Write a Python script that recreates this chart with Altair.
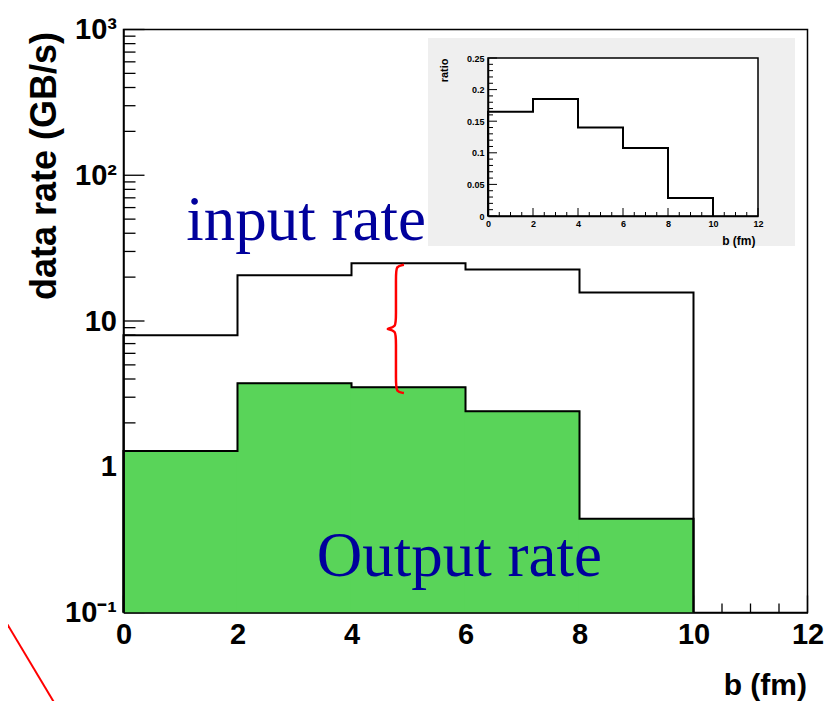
import math
import altair as alt
import pandas as pd

# ---------------- data ----------------
b_edges = [0, 2, 4, 6, 8, 10]
input_rate = [8.0, 20.6, 24.9, 22.6, 15.7]      # GB/s, black outline
output_rate = [1.28, 3.74, 3.51, 2.40, 0.44]    # GB/s, green histogram
ratio = [0.165, 0.185, 0.140, 0.1075, 0.0286]   # inset

x_major = [0, 2, 4, 6, 8, 10, 12]
x_minor = [k / 2 for k in range(0, 25) if k % 4 != 0]
y_major = [0.1, 1, 10, 100, 1000]
y_minor = [m * 10.0 ** e for e in range(-1, 3) for m in range(2, 10)]
ix_major = [0, 2, 4, 6, 8, 10, 12]
ix_minor = [k / 2 for k in range(0, 25) if k % 4 != 0]
iy_major = [0, 0.05, 0.1, 0.15, 0.2, 0.25]
iy_minor = [k / 100 for k in range(0, 26) if k % 5 != 0]

# ---------------- layout / style ----------------
W, H = 684, 583
XMIN, XMAX = 0, 12
YMIN, YMAX = 0.1, 1000
FONT = "Liberation Sans"
SERIF = "Liberation Serif"
GREEN = "#59d459"
BLUE = "#00009c"
IX0, IX1, IY0, IY1 = 364.5, 634.5, 28.5, 186.5   # inset plot box (pixels)
IXMAX, IYMAX = 12, 0.25


def outline(edges, vals, floor):
    xs = [edges[0]] + list(edges[:-1]) + [edges[-1], edges[-1]]
    ys = [floor] + list(vals) + [vals[-1], floor]
    return pd.DataFrame({"b": xs, "v": ys, "i": list(range(len(xs)))})


bars = pd.DataFrame({"b0": b_edges[:-1], "b1": b_edges[1:],
                     "input": input_rate, "output": output_rate})
one = pd.DataFrame({"k": [0]})

xs_ = alt.Scale(domain=[XMIN, XMAX], nice=False, zero=False)
ys_ = alt.Scale(type="log", domain=[YMIN, YMAX], nice=False)

x_axis = alt.Axis(orient="bottom", values=x_major, format="d", ticks=False, grid=False,
                  domainColor="black", domainWidth=1.5,
                  labelFont=FONT, labelFontSize=29, labelFontWeight="bold",
                  labelColor="black", labelPadding=8, labelFlush=False,
                  labelOverlap=False,
                  title="b (fm)", titleFont=FONT, titleFontSize=30,
                  titleFontWeight="bold", titleColor="black",
                  titleAlign="right", titleX=W - 1, titleY=82,
                  titleBaseline="alphabetic", zindex=1)
y_axis = alt.Axis(orient="left", values=y_major, ticks=False, grid=False,
                  labelExpr="datum.value >= 999 ? '10³' : datum.value >= 99 ? '10²' : "
                            "datum.value >= 9 ? '10' : datum.value >= 0.9 ? '1' : '10⁻¹'",
                  domainColor="black", domainWidth=1.5,
                  labelFont=FONT, labelFontSize=29, labelFontWeight="bold",
                  labelColor="black", labelPadding=7, labelFlush=False,
                  labelOverlap=False,
                  title="data rate (GB/s)", titleFont=FONT, titleFontSize=36,
                  titleFontWeight="bold", titleColor="black", titleAngle=270,
                  titleAlign="center", titleBaseline="middle",
                  titleX=-79, titleY=136, zindex=1)


def yticks(vals, length_px, xscale, yscale, x_lo, x_hi, px_span, width=1.3):
    d = pd.DataFrame({"t": vals})
    return alt.Chart(d).mark_rule(color="black", strokeWidth=width).encode(
        y=alt.Y("t:Q", scale=yscale, axis=None),
        x=alt.XDatum(x_lo, scale=xscale, axis=None),
        x2=alt.X2Datum(x_lo + (x_hi - x_lo) * length_px / px_span))


def xticks(vals, length_px, xscale, yscale, y_lo, y_end, px_span, width=1.3, log=False):
    d = pd.DataFrame({"t": vals})
    if log:
        y_top = y_lo * (y_end / y_lo) ** (length_px / px_span)
    else:
        y_top = y_lo + (y_end - y_lo) * length_px / px_span
    return alt.Chart(d).mark_rule(color="black", strokeWidth=width).encode(
        x=alt.X("t:Q", scale=xscale, axis=None),
        y=alt.YDatum(y_lo, scale=yscale, axis=None),
        y2=alt.Y2Datum(y_top))


green = alt.Chart(bars).mark_rect(color=GREEN, stroke=GREEN, strokeWidth=1.2).encode(
    x=alt.X("b0:Q", scale=xs_, axis=x_axis), x2="b1",
    y=alt.Y("output:Q", scale=ys_, axis=y_axis), y2=alt.datum(YMIN))


def step_line(df, scale_x, scale_y, width=2):
    return alt.Chart(df).mark_line(color="black", strokeWidth=width,
                                   interpolate="step-after").encode(
        x=alt.X("b:Q", scale=scale_x, axis=None),
        y=alt.Y("v:Q", scale=scale_y, axis=None),
        order="i:Q")


out_line = step_line(outline(b_edges, output_rate, YMIN), xs_, ys_)
in_line = step_line(outline(b_edges, input_rate, YMIN), xs_, ys_)

# red curly brace between the two rates in the 4-6 fm bin
xb = 4.78
yt = math.log10(input_rate[2]) - 0.01
yb = math.log10(output_rate[2]) - 0.04
ym = (yt + yb) / 2
brace_pts = [(xb + 0.14, yt), (xb, yt - 0.01), (xb, yt - 0.07), (xb, ym + 0.07),
             (xb, ym + 0.015), (xb - 0.15, ym), (xb - 0.15, ym), (xb, ym - 0.015),
             (xb, ym - 0.07), (xb, yb + 0.07), (xb, yb + 0.01), (xb + 0.14, yb)]
brace_df = pd.DataFrame({"b": [p[0] for p in brace_pts],
                         "v": [10 ** p[1] for p in brace_pts],
                         "i": list(range(len(brace_pts)))})
brace = alt.Chart(brace_df).mark_line(color="red", strokeWidth=2.5,
                                      interpolate="basis").encode(
    x=alt.X("b:Q", scale=xs_, axis=None),
    y=alt.Y("v:Q", scale=ys_, axis=None), order="i:Q")

txt_in = alt.Chart(pd.DataFrame({"label": ["input rate"]})).mark_text(
    font=SERIF, fontSize=63, color=BLUE, align="left", baseline="alphabetic").encode(
    x=alt.XDatum(1.1, scale=xs_, axis=None), y=alt.YDatum(35.8, scale=ys_, axis=None),
    text="label:N")
txt_out = alt.Chart(pd.DataFrame({"label": ["Output rate"]})).mark_text(
    font=SERIF, fontSize=63, color=BLUE, align="left", baseline="alphabetic").encode(
    x=alt.XDatum(3.39, scale=xs_, axis=None), y=alt.YDatum(0.177, scale=ys_, axis=None),
    text="label:N")

red_slash = alt.Chart(one).mark_rule(color="red", strokeWidth=2).encode(
    x=alt.value(-123.5), y=alt.value(582.5), x2=alt.value(-65.5), y2=alt.value(679.5))

# ---------------- inset ----------------
ixs_ = alt.Scale(domain=[0, IXMAX], range=[IX0, IX1], nice=False, zero=False)
iys_ = alt.Scale(domain=[0, IYMAX], range=[IY1, IY0], nice=False, zero=False)

gray = alt.Chart(one).mark_rect(color="#efefef").encode(
    x=alt.value(304.5), x2=alt.value(671.5), y=alt.value(8.5), y2=alt.value(216.5))

frame_df = pd.DataFrame({"x0": [ix_major[0]], "x1": [ix_major[-1]],
                         "y0": [iy_major[0]], "y1": [iy_major[-1]]})
inset_frame = alt.Chart(frame_df).mark_rect(fill="white", stroke="black",
                                            strokeWidth=1.5).encode(
    x=alt.X("x0:Q", scale=ixs_, axis=None), x2="x1",
    y=alt.Y("y0:Q", scale=iys_, axis=None), y2="y1")

ix_axis = alt.Axis(orient="bottom", offset=IY1 - H, values=ix_major, format="d",
                   ticks=False, grid=False, domainColor="black", domainWidth=1.5,
                   labelFont=FONT, labelFontSize=9, labelFontWeight="bold",
                   labelColor="black", labelPadding=3, labelFlush=False,
                   labelOverlap=False,
                   title="b (fm)", titleFont=FONT, titleFontSize=12,
                   titleFontWeight="bold", titleColor="black", titleAlign="right",
                   titleX=IX1 - 3, titleY=28, titleBaseline="alphabetic", zindex=1)
iy_axis = alt.Axis(orient="left", offset=-IX0, values=iy_major, ticks=False,
                   grid=False, domainColor="black", domainWidth=1.5,
                   labelExpr="datum.value == 0 ? '0' : format(datum.value, '.2~f')",
                   labelFont=FONT, labelFontSize=9, labelFontWeight="bold",
                   labelColor="black", labelPadding=4, labelFlush=False,
                   labelOverlap=False,
                   title="ratio", titleFont=FONT, titleFontSize=11,
                   titleFontWeight="bold", titleColor="black", titleAngle=270,
                   titleAlign="right", titleBaseline="middle",
                   titleX=-44, titleY=IY0, zindex=1)

ratio_df = outline(b_edges, ratio, 0)
ratio_line = alt.Chart(ratio_df).mark_line(color="black", strokeWidth=2,
                                           interpolate="step-after").encode(
    x=alt.X("b:Q", scale=ixs_, axis=ix_axis),
    y=alt.Y("v:Q", scale=iys_, axis=iy_axis), order="i:Q")

chart = alt.layer(
    yticks(y_major, 21, xs_, ys_, XMIN, XMAX, W),
    yticks(y_minor, 12, xs_, ys_, XMIN, XMAX, W),
    xticks(x_major, 17, xs_, ys_, YMIN, YMAX, H, log=True),
    xticks(x_minor, 9, xs_, ys_, YMIN, YMAX, H, log=True),
    green, out_line, in_line, brace, txt_in, txt_out, red_slash,
    gray, inset_frame,
    yticks(iy_major, 9, ixs_, iys_, 0, IXMAX, IX1 - IX0, 1),
    yticks(iy_minor, 5, ixs_, iys_, 0, IXMAX, IX1 - IX0, 1),
    xticks(ix_major, 8, ixs_, iys_, 0, IYMAX, IY1 - IY0, 1),
    xticks(ix_minor, 4, ixs_, iys_, 0, IYMAX, IY1 - IY0, 1),
    ratio_line,
).resolve_scale(
    x="independent", y="independent"
).properties(
    width=W, height=H,
    autosize=alt.AutoSizeParams(type="none"),
    padding={"left": 115.5, "top": 21.5, "right": 16.5, "bottom": 88.5},
    background="white",
).configure_view(stroke="black", strokeWidth=1.5)

chart.save("out.html", embed_options={"renderer": "svg", "actions": False})
